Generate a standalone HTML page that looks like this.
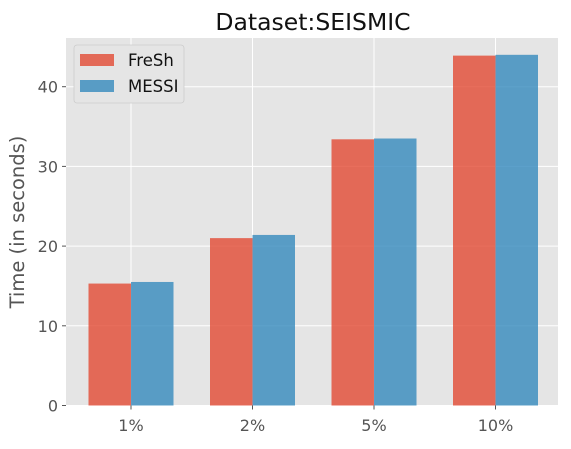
<!DOCTYPE html>
<html><head><meta charset="utf-8"><style>
body{margin:0;background:#fff;}
text{font-family:"DejaVu Sans","Liberation Sans",sans-serif;}
</style></head><body>
<svg id="chart" width="571" height="444">
<text x="313" y="30" font-size="23.5" text-anchor="middle" fill="#111">Dataset:SEISMIC</text>
<rect x="66" y="38" width="492" height="367.5" fill="#E5E5E5"/>
<g id="grid"></g><g id="bars"></g><g id="axes"></g>
<text transform="translate(24,222) rotate(-90)" font-size="19.5" text-anchor="middle" fill="#555">Time (in seconds)</text>
<g>
<rect x="74" y="45" width="110" height="58" rx="3" fill="#E5E5E5" stroke="#ccc" stroke-width="0.8"/>
<rect x="80" y="54" width="34" height="12" fill="#E24A33" fill-opacity="0.8"/>
<text x="128" y="66" font-size="16.5" fill="#111">FreSh</text>
<rect x="80" y="80" width="34" height="12" fill="#348ABD" fill-opacity="0.8"/>
<text x="128" y="92" font-size="16.5" fill="#111">MESSI</text>
</g>
</svg>
<script>
const categories=["1%","2%","5%","10%"];
const fresh=[15.3,21.0,33.4,43.9];
const messi=[15.5,21.4,33.5,44.0];
const yTicks=[0,10,20,30,40];
const NS="http://www.w3.org/2000/svg";
const x=i=>131+121.5*i;
const y=v=>405.5-v*7.97;
const bw=42.5;
function mk(t,a,p){const e=document.createElementNS(NS,t);for(const k in a)e.setAttribute(k,a[k]);p.appendChild(e);return e;}
const grid=document.getElementById('grid'),bars=document.getElementById('bars'),axes=document.getElementById('axes');
yTicks.forEach(t=>{
  const g=mk('line',{x1:66,x2:558,y1:y(t),y2:y(t),stroke:'#fff','stroke-width':1},grid);
  
  
  mk('line',{x1:62,x2:66,y1:y(t),y2:y(t),stroke:'#555'},axes);
  const l=mk('text',{x:58,y:y(t)+6,'font-size':16,'text-anchor':'end',fill:'#555'},axes);
  l.textContent=t;
  
  
});
categories.forEach((c,i)=>{
  const g=mk('line',{x1:x(i),x2:x(i),y1:38,y2:405.5,stroke:'#fff','stroke-width':1},grid);
  
  
  const a=mk('rect',{x:x(i)-bw,y:y(fresh[i]),width:bw,height:y(0)-y(fresh[i]),fill:'#E24A33','fill-opacity':0.8},bars);
  
  
  const b=mk('rect',{x:x(i),y:y(messi[i]),width:bw,height:y(0)-y(messi[i]),fill:'#348ABD','fill-opacity':0.8},bars);
  
  
  mk('line',{x1:x(i),x2:x(i),y1:405.5,y2:409.5,stroke:'#555'},axes);
  const l=mk('text',{x:x(i),y:431,'font-size':16,'text-anchor':'middle',fill:'#555'},axes);
  l.textContent=c;
  
  
});
</script>
</body></html>
